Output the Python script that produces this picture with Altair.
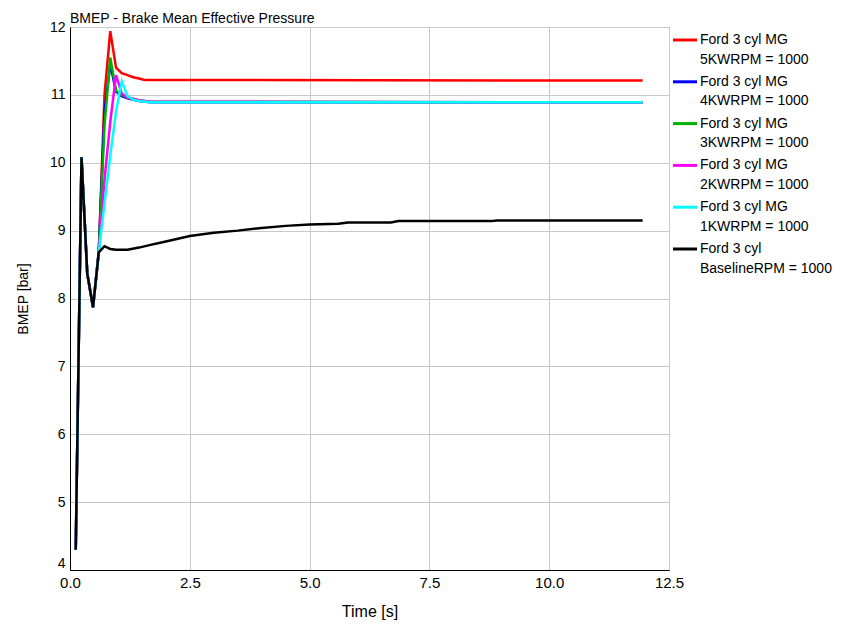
import altair as alt
import pandas as pd

# Series shown in the chart, in drawing order (first drawn = bottom)
series_keys = ["mg5", "mg4", "mg3", "mg2", "mg1", "base"]
legend_line1 = ["Ford 3 cyl MG", "Ford 3 cyl MG", "Ford 3 cyl MG",
                "Ford 3 cyl MG", "Ford 3 cyl MG", "Ford 3 cyl"]
legend_line2 = ["5KWRPM = 1000", "4KWRPM = 1000", "3KWRPM = 1000",
                "2KWRPM = 1000", "1KWRPM = 1000", "BaselineRPM = 1000"]
series_colors = ["#ff0000", "#0000ff", "#00b000", "#ff00ff", "#00ffff", "#000000"]

# Opening cycles are common to every run
start_t = [0.12, 0.24, 0.36, 0.48, 0.60]
start_v = [4.30, 10.08, 8.37, 7.87, 8.68]

mg5_t = [0.72, 0.84, 0.96, 1.08, 1.20, 1.32, 1.44, 1.56, 11.95]
mg5_v = [11.00, 11.94, 11.40, 11.32, 11.29, 11.26, 11.24, 11.22, 11.21]

mg4_t = [0.72, 0.84, 0.96, 1.08, 1.20, 1.44, 1.68, 11.95]
mg4_v = [10.75, 11.45, 11.05, 10.98, 10.95, 10.91, 10.89, 10.89]

mg3_t = [0.72, 0.84, 0.96, 1.08, 1.20, 1.44, 1.68, 11.95]
mg3_v = [10.55, 11.55, 11.06, 11.00, 10.96, 10.92, 10.90, 10.89]

mg2_t = [0.72, 0.84, 0.96, 1.08, 1.20, 1.44, 1.68, 11.95]
mg2_v = [9.75, 10.60, 11.29, 11.02, 10.96, 10.92, 10.90, 10.89]

mg1_t = [0.72, 0.84, 0.96, 1.08, 1.20, 1.32, 1.44, 1.68, 11.95]
mg1_v = [9.40, 10.10, 10.75, 11.20, 10.98, 10.93, 10.91, 10.89, 10.89]

base_t = [0.72, 0.84, 0.96, 1.20, 1.44, 1.68, 2.00, 2.50, 3.00, 3.50, 4.00,
          4.50, 5.00, 5.60, 5.80, 6.70, 6.85, 8.80, 8.90, 11.95]
base_v = [8.77, 8.73, 8.72, 8.72, 8.75, 8.79, 8.84, 8.92, 8.97, 9.00, 9.04,
          9.07, 9.09, 9.10, 9.12, 9.12, 9.14, 9.14, 9.15, 9.15]

tails = {
    "mg5": (mg5_t, mg5_v),
    "mg4": (mg4_t, mg4_v),
    "mg3": (mg3_t, mg3_v),
    "mg2": (mg2_t, mg2_v),
    "mg1": (mg1_t, mg1_v),
    "base": (base_t, base_v),
}

rows = []
for key in series_keys:
    t_tail, v_tail = tails[key]
    for t, v in zip(start_t + t_tail, start_v + v_tail):
        rows.append({"series": key, "time": t, "bmep": v})
df = pd.DataFrame(rows)

legend_df = pd.DataFrame({
    "series": series_keys,
    "line1": legend_line1,
    "line2": legend_line2,
    "slot": list(range(len(series_keys))),
})

FONT = "Liberation Sans"
color = alt.Color("series:N",
                  scale=alt.Scale(domain=series_keys, range=series_colors),
                  legend=None)

x_enc = alt.X("time:Q", title="Time [s]",
              scale=alt.Scale(domain=[0, 12.5], nice=False),
              axis=alt.Axis(values=[0, 2.5, 5, 7.5, 10, 12.5], format=".1f",
                            labelFlush=False, labelFontSize=15,
                            titleFontSize=16, titlePadding=13))
# the lowest tick label sits just above the corner so it clears "0.0"
y_enc = alt.Y("bmep:Q", title="BMEP [bar]",
              scale=alt.Scale(domain=[4, 12], nice=False),
              axis=alt.Axis(values=list(range(4, 13)), titlePadding=19,
                            labelBaseline={"condition": {"test": "datum.value === 4",
                                                         "value": "bottom"},
                                           "value": "middle"}))

lines = [
    alt.Chart(df).transform_filter(alt.datum.series == key)
    .mark_line(strokeWidth=2.5, clip=True)
    .encode(x=x_enc, y=y_enc, color=color, order="time:Q")
    for key in series_keys
]
plot = alt.layer(*lines)

legend_y = alt.Y("slot:Q", axis=None,
                 scale=alt.Scale(domain=[0, 5], range=[13, 222], nice=False, zero=False))
leg_base = alt.Chart(legend_df)
leg_sym = leg_base.mark_rule(strokeWidth=3).encode(
    x=alt.value(603), x2=alt.value(627), y=legend_y, color=color)
leg_t1 = leg_base.mark_text(align="left", baseline="middle", font=FONT,
                            fontSize=14, color="black").encode(
    x=alt.value(630), y=legend_y, text="line1:N")
leg_t2 = leg_base.mark_text(align="left", baseline="middle", font=FONT,
                            fontSize=14, color="black", dy=19.5).encode(
    x=alt.value(630), y=legend_y, text="line2:N")
legend = alt.layer(leg_sym, leg_t1, leg_t2)

chart = alt.layer(plot, legend).resolve_scale(y="independent").properties(
    width=599, height=543,
    background="white",
    autosize=alt.AutoSizeParams(type="none"),
    padding={"left": 70, "top": 27, "right": 185, "bottom": 55},
    title=alt.TitleParams("BMEP - Brake Mean Effective Pressure", anchor="start",
                          frame="group", font=FONT, fontSize=14,
                          fontWeight="normal", color="black", offset=4, dy=10),
).configure_view(stroke="#000000", strokeWidth=1).configure_axis(
    labelFont=FONT, labelFontSize=14, labelColor="black",
    titleFont=FONT, titleFontSize=14, titleFontWeight="normal", titleColor="black",
    gridColor="#c8c8c8", gridWidth=1, domainColor="black", domainWidth=1,
    ticks=False, labelPadding=5,
)

chart.save("out.html", embed_options={"renderer": "svg", "actions": False})
